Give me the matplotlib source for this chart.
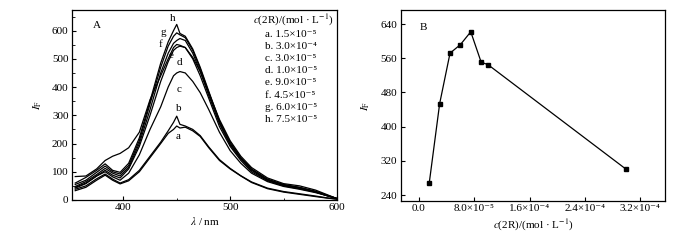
import matplotlib
matplotlib.use("Agg")
import matplotlib.pyplot as plt

plt.rcParams["font.family"] = ["Liberation Serif", "DejaVu Serif"]
plt.rcParams["mathtext.fontset"] = "stix"
plt.rcParams["font.size"] = 8

# ---------------- datos panel A (espectros) ----------------
wl = [355, 365, 375, 383, 390, 397, 405, 415, 425, 435, 442, 447, 450, 453,
      458, 465, 472, 480, 490, 500, 510, 520, 535, 550, 565, 580, 590, 600]

spec_a = [33, 45, 70, 88, 70, 57, 68, 100, 150, 200, 236, 250, 262, 255,
          258, 245, 225, 185, 140, 110, 85, 62, 40, 28, 20, 12, 7, 3]
spec_b = [38, 50, 75, 92, 74, 60, 72, 105, 155, 205, 245, 275, 297, 268,
          262, 250, 228, 188, 143, 112, 86, 64, 42, 30, 22, 14, 8, 3]
spec_c = [45, 60, 85, 100, 82, 70, 95, 160, 250, 330, 400, 440, 450, 455,
          450, 420, 380, 320, 240, 175, 130, 95, 65, 48, 38, 26, 16, 5]
spec_d = [42, 58, 85, 105, 88, 78, 110, 190, 300, 420, 490, 530, 540, 545,
          540, 500, 440, 360, 260, 190, 140, 100, 68, 50, 40, 28, 16, 5]
spec_e = [83, 85, 110, 140, 155, 165, 185, 240, 355, 440, 500, 540, 551, 548,
          540, 505, 455, 380, 285, 210, 155, 115, 78, 58, 50, 35, 20, 5]
spec_f = [48, 65, 90, 112, 95, 85, 115, 200, 320, 450, 520, 555, 565, 572,
          565, 520, 455, 370, 270, 195, 145, 105, 70, 52, 42, 28, 16, 5]
spec_g = [55, 70, 98, 120, 100, 92, 122, 210, 340, 470, 545, 580, 592, 585,
          575, 530, 465, 380, 275, 200, 148, 108, 72, 54, 44, 30, 17, 5]
spec_h = [60, 80, 105, 128, 105, 98, 130, 220, 350, 485, 560, 600, 622, 590,
          580, 535, 470, 385, 280, 205, 150, 110, 74, 55, 45, 31, 18, 5]

spectra = [spec_a, spec_b, spec_c, spec_d, spec_e, spec_f, spec_g, spec_h]
curve_letters = ["a", "b", "c", "d", "e", "f", "g", "h"]
# posicion de cada letra (lambda, I_F)
letter_x = [451, 451.7, 452.6, 452.3, 444.6, 434.6, 437.7, 446.4]
letter_y = [224, 325, 392, 487, 511, 550, 595, 644]

legend_title = r"$c$(2R)/(mol · L$^{-1}$)"
legend_rows = ["a. 1.5×10⁻⁵", "b. 3.0×10⁻⁴", "c. 3.0×10⁻⁵", "d. 1.0×10⁻⁵",
               "e. 9.0×10⁻⁵", "f. 4.5×10⁻⁵", "g. 6.0×10⁻⁵", "h. 7.5×10⁻⁵"]

# ---------------- datos panel B ----------------
conc = [1.5e-5, 3.0e-5, 4.5e-5, 6.0e-5, 7.5e-5, 9.0e-5, 1.0e-4, 3.0e-4]
intensity = [269, 454, 572, 592, 622, 551, 545, 300]
b_ticks = [0.0, 8.0e-5, 1.6e-4, 2.4e-4, 3.2e-4]
b_ticklabels = ["0.0", "8.0×10⁻⁵", "1.6×10⁻⁴", "2.4×10⁻⁴", "3.2×10⁻⁴"]

fig = plt.figure(figsize=(7, 2.4), dpi=100)
axA = fig.add_axes([0.1029, 0.1667, 0.3785, 0.7916])
axB = fig.add_axes([0.5724, 0.1625, 0.3776, 0.7958])

# ---- panel A ----
for s in spectra:
    axA.plot(wl, s, color="black", linewidth=0.9)
for lt, lx, ly in zip(curve_letters, letter_x, letter_y):
    axA.text(lx, ly, lt, ha="center", va="center")

axA.set_xlim(352, 600)
axA.set_ylim(0, 673)
axA.set_xticks([400, 500, 600])
axA.set_xticks([450, 550], minor=True)
axA.set_yticks([0, 100, 200, 300, 400, 500, 600])
axA.set_yticks([50, 150, 250, 350, 450, 550, 650], minor=True)
axA.set_xlabel(r"$\lambda$ / nm", labelpad=2)
axA.set_ylabel(r"$I_{\rm F}$", labelpad=6)
axA.text(375.4, 618, "A", ha="center", va="center")

axA.text(0.834, 0.947, legend_title, transform=axA.transAxes, ha="center",
         va="center")
for i, row in enumerate(legend_rows):
    axA.text(0.729, 0.87 - i * 0.0635, row, transform=axA.transAxes,
             ha="left", va="center")

# ---- panel B ----
axB.plot(conc, intensity, color="black", linewidth=0.9, marker="s",
         markersize=3.5)
axB.set_xlim(-2.64e-5, 3.56e-4)
axB.set_ylim(226, 673)
axB.set_xticks(b_ticks)
axB.set_xticklabels(b_ticklabels)
axB.set_yticks([240, 320, 400, 480, 560, 640])
axB.set_xlabel(legend_title, labelpad=3)
axB.set_ylabel(r"$I_{\rm F}$", labelpad=6)
axB.text(6.4e-6, 632, "B", ha="center", va="center")

for ax in (axA, axB):
    ax.tick_params(which="major", direction="in", length=3, pad=2.5)
    ax.tick_params(which="minor", direction="in", length=1.8)
    for sp in ax.spines.values():
        sp.set_linewidth(0.9)

fig.savefig("out.png", dpi=100)
